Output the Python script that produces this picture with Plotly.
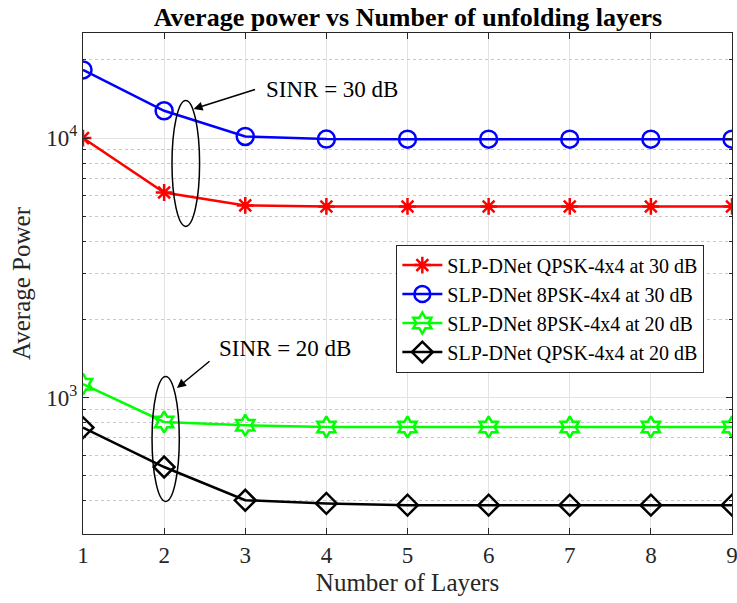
import numpy as np
import plotly.graph_objects as go

layers = [1, 2, 3, 4, 5, 6, 7, 8, 9]
qpsk_30 = [10000, 6170, 5500, 5450, 5450, 5450, 5450, 5450, 5450]
psk8_30 = [18300, 12740, 10140, 9910, 9900, 9900, 9900, 9900, 9900]
psk8_20 = [1126, 805, 782, 770, 770, 770, 770, 770, 770]
qpsk_20 = [766, 540, 402, 391, 385, 385, 385, 385, 385]

names = ["SLP-DNet QPSK-4x4 at 30 dB", "SLP-DNet 8PSK-4x4 at 30 dB",
         "SLP-DNet 8PSK-4x4 at 20 dB", "SLP-DNet QPSK-4x4 at 20 dB"]
series = [qpsk_30, psk8_30, psk8_20, qpsk_20]
colors = ["#ff0000", "#0000ff", "#00ff00", "#000000"]
symbols = ["asterisk-open", "circle-open", "hexagram-open", "diamond-open"]
sizes = [14, 17, 16, 16]

major_vals = [1000, 10000]
minor_vals = [300, 400, 500, 600, 700, 800, 900, 2000, 3000, 4000, 5000,
              6000, 7000, 8000, 9000, 20000]

FONT = "Liberation Serif, Times New Roman, serif"
AX = "#262626"

fig = go.Figure()
for nm, ys, c, s, sz in zip(names, series, colors, symbols, sizes):
    fig.add_trace(go.Scatter(
        x=layers, y=ys, name=nm, mode="lines+markers",
        line=dict(color=c, width=2.5),
        marker=dict(symbol=s, size=sz, color=c, line=dict(color=c, width=2.5)),
    ))

yr = [np.log10(298), np.log10(25400)]

fig.update_layout(
    width=737, height=603,
    margin=dict(l=83, r=5, t=33, b=69),
    paper_bgcolor="white", plot_bgcolor="white",
    font=dict(family=FONT, color=AX),
    title=dict(text="<b>Average power vs Number of unfolding layers</b>",
               x=0.5535, xanchor="center", y=0.972, yanchor="middle",
               font=dict(size=26, color="black", family=FONT)),
    xaxis=dict(range=[1, 9], tickvals=layers, ticks="inside", ticklen=6,
               tickcolor=AX, showline=True, linecolor=AX, linewidth=1,
               mirror="ticks", showgrid=True, gridcolor="#e3e3e3",
               zeroline=False, tickfont=dict(size=23, color=AX),
               ticklabeloverflow="allow", automargin=False,
               title=dict(text="Number of Layers", font=dict(size=25, color=AX),
                          standoff=6)),
    yaxis=dict(type="log", range=yr, tickvals=major_vals,
               ticktext=["10<sup>3</sup>", "10<sup>4</sup>"],
               ticks="inside", ticklen=6, tickcolor=AX, showline=True,
               linecolor=AX, linewidth=1, mirror="ticks", showgrid=True,
               gridcolor="#e3e3e3", zeroline=False, automargin=False,
               tickfont=dict(size=23, color=AX),
               title=dict(text="Average Power", font=dict(size=25, color=AX),
                          standoff=8)),
    yaxis2=dict(type="log", range=yr, overlaying="y", side="left",
                tickvals=minor_vals, ticktext=[""] * len(minor_vals),
                ticks="inside", ticklen=3, tickcolor=AX, showline=False,
                mirror="ticks", showgrid=True, gridcolor="#c8c8c8",
                griddash="dot", gridwidth=1, zeroline=False,
                showticklabels=False, automargin=False),
    legend=dict(x=0.4828, y=0.450, xanchor="left", yanchor="middle",
                bgcolor="white", bordercolor=AX, borderwidth=1,
                font=dict(size=20, color="black", family=FONT),
                tracegroupgap=0, itemwidth=40),
    showlegend=True,
)

# dummy invisible trace to activate yaxis2
fig.add_trace(go.Scatter(x=[1], y=[1000], yaxis="y2", mode="markers",
                         marker=dict(opacity=0), showlegend=False,
                         hoverinfo="skip"))

# ellipses
fig.add_shape(type="circle", xref="x", yref="y domain", x0=2.097, x1=2.437,
              y0=0.614, y1=0.8655, line=dict(color="black", width=1.5))
fig.add_shape(type="circle", xref="x", yref="y domain", x0=1.851, x1=2.187,
              y0=0.0651, y1=0.3146, line=dict(color="black", width=1.5))

# arrows
fig.add_annotation(x=2.363, y=0.8483, xref="x", yref="y domain", text="",
                   showarrow=True, arrowhead=2, arrowsize=1.2, arrowwidth=1.5,
                   arrowcolor="black", ax=63, ay=-20)
fig.add_annotation(x=2.159, y=0.2914, xref="x", yref="y domain", text="",
                   showarrow=True, arrowhead=2, arrowsize=1.2, arrowwidth=1.5,
                   arrowcolor="black", ax=34, ay=-28)

# labels
fig.add_annotation(x=3.226, y=0.8868, xref="x", yref="y domain",
                   text="SINR = 30 dB", showarrow=False, xanchor="left",
                   yanchor="middle", font=dict(size=23, color="black", family=FONT))
fig.add_annotation(x=2.652, y=0.3693, xref="x", yref="y domain",
                   text="SINR = 20 dB", showarrow=False, xanchor="left",
                   yanchor="middle", font=dict(size=23, color="black", family=FONT))

fig.write_html("out.html")
